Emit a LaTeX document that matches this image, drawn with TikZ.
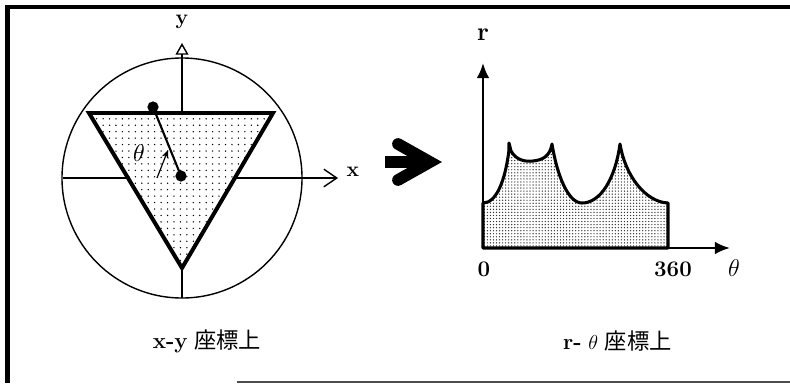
\documentclass[tikz,border=0pt]{standalone}
\usepackage{fontspec}
\newfontfamily\cjk{Noto Sans CJK JP}
\usetikzlibrary{arrows.meta,patterns.meta}

\begin{document}
\begin{tikzpicture}[x=0.03cm, y=-0.03cm, >=Latex,
    thinline/.style={line width=1.2pt},
    lbl/.style={font=\fontsize{18}{20}\selectfont},
    greek/.style={font=\fontsize{22}{24}\selectfont},
    captxt/.style={font=\fontsize{19}{21}\selectfont},
    dotfill/.style={pattern={Dots[radius=0.65pt, distance=5.5pt]}, pattern color=black},
    densefill/.style={pattern={Dots[radius=0.6pt, distance=2.6pt]}, pattern color=black!80}]
    \useasboundingbox (0,0) rectangle (790,383);
    \draw[line width=4.2pt] (7.5,383) -- (7.5,7) -- (790,7);
    \draw[line width=1.5pt, black!70] (237,382) -- (790,382);

    \coordinate (c) at (182,178);
    \coordinate (xl) at (63,178);
    \coordinate (xr) at (338,178);
    \coordinate (yb) at (182,298);
    \coordinate (yt) at (182,43);
    \draw[thinline] (c) circle (3.6cm);
    \draw[thinline, -{Straight Barb[length=11pt, width=15pt]}] (xl) -- (xr);
    \draw[thinline, -{Triangle[open, length=10pt, width=11pt]}] (yb) -- (yt);
    \node[lbl, font=\fontsize{18}{20}\selectfont\bfseries] (ylabel) at (182,22) {y};
    \node[lbl, font=\fontsize{18}{20}\selectfont\bfseries] (xlabel) at (353,172) {x};

    \coordinate (tl) at (89,113);
    \coordinate (tr) at (273,113);
    \coordinate (tb) at (182,268);
    \draw[line width=3.4pt, line join=miter, preaction={fill=white}, dotfill] (tl) -- (tr) -- (tb) -- cycle;

    \coordinate (p) at (153,107);
    \coordinate (o) at (181,176);
    \draw[line width=1.8pt] (p) -- (o);
    \fill (p) circle (4.8pt);
    \fill (o) circle (4.8pt);
    \node[greek] (theta) at (139,153) {$\theta$};
    \coordinate (a1) at (157,178);
    \coordinate (a2) at (168,150);
    \draw[line width=1pt, -{Stealth[length=7pt, width=6pt]}] (a1) -- (a2);

    \draw[line width=10pt] (385,162) -- (424,162);
    \draw[line width=10pt, line cap=round, line join=miter] (398,144) -- (430,162) -- (398,180);

    \coordinate (o2) at (483,248);
    \coordinate (rt) at (483,63);
    \coordinate (thr) at (730,248);
    \draw[line width=2.6pt, line join=round, preaction={fill=white}, densefill]
        (483,203) .. controls (496,203) and (505,182) .. (509,150)
        -- (509,143) -- (511,151)
        .. controls (516,160) and (525,162) .. (533,161)
        .. controls (543,160) and (550,156) .. (552,144)
        .. controls (557,175) and (568,203) .. (582,203)
        .. controls (600,203) and (615,180) .. (620,144)
        .. controls (625,175) and (645,202) .. (668,203)
        -- (668,248) -- (483,248) -- cycle;
    \draw[line width=2.2pt, -{Latex[length=13pt, width=11pt]}] (o2) -- (rt);
    \draw[line width=2.2pt, -{Latex[length=13pt, width=11pt]}] (o2) -- (thr);
    \node[lbl, font=\fontsize{22}{24}\selectfont\bfseries] (rlabel) at (483,35) {r};
    \node[lbl, font=\fontsize{19}{21}\selectfont\bfseries] (zero) at (484,269) {0};
    \node[lbl, font=\fontsize{19}{21}\selectfont\bfseries] (full) at (673,269) {360};
    \node[greek] (thlabel) at (734,268) {$\theta$};

    \node[captxt] (capl) at (207,341) {\textbf{x-y} {\cjk 座標上}};
    \node[captxt, anchor=west] (capr) at (559,341) {\textbf{r-} $\theta$ {\cjk 座標上}};
\end{tikzpicture}
\end{document}
